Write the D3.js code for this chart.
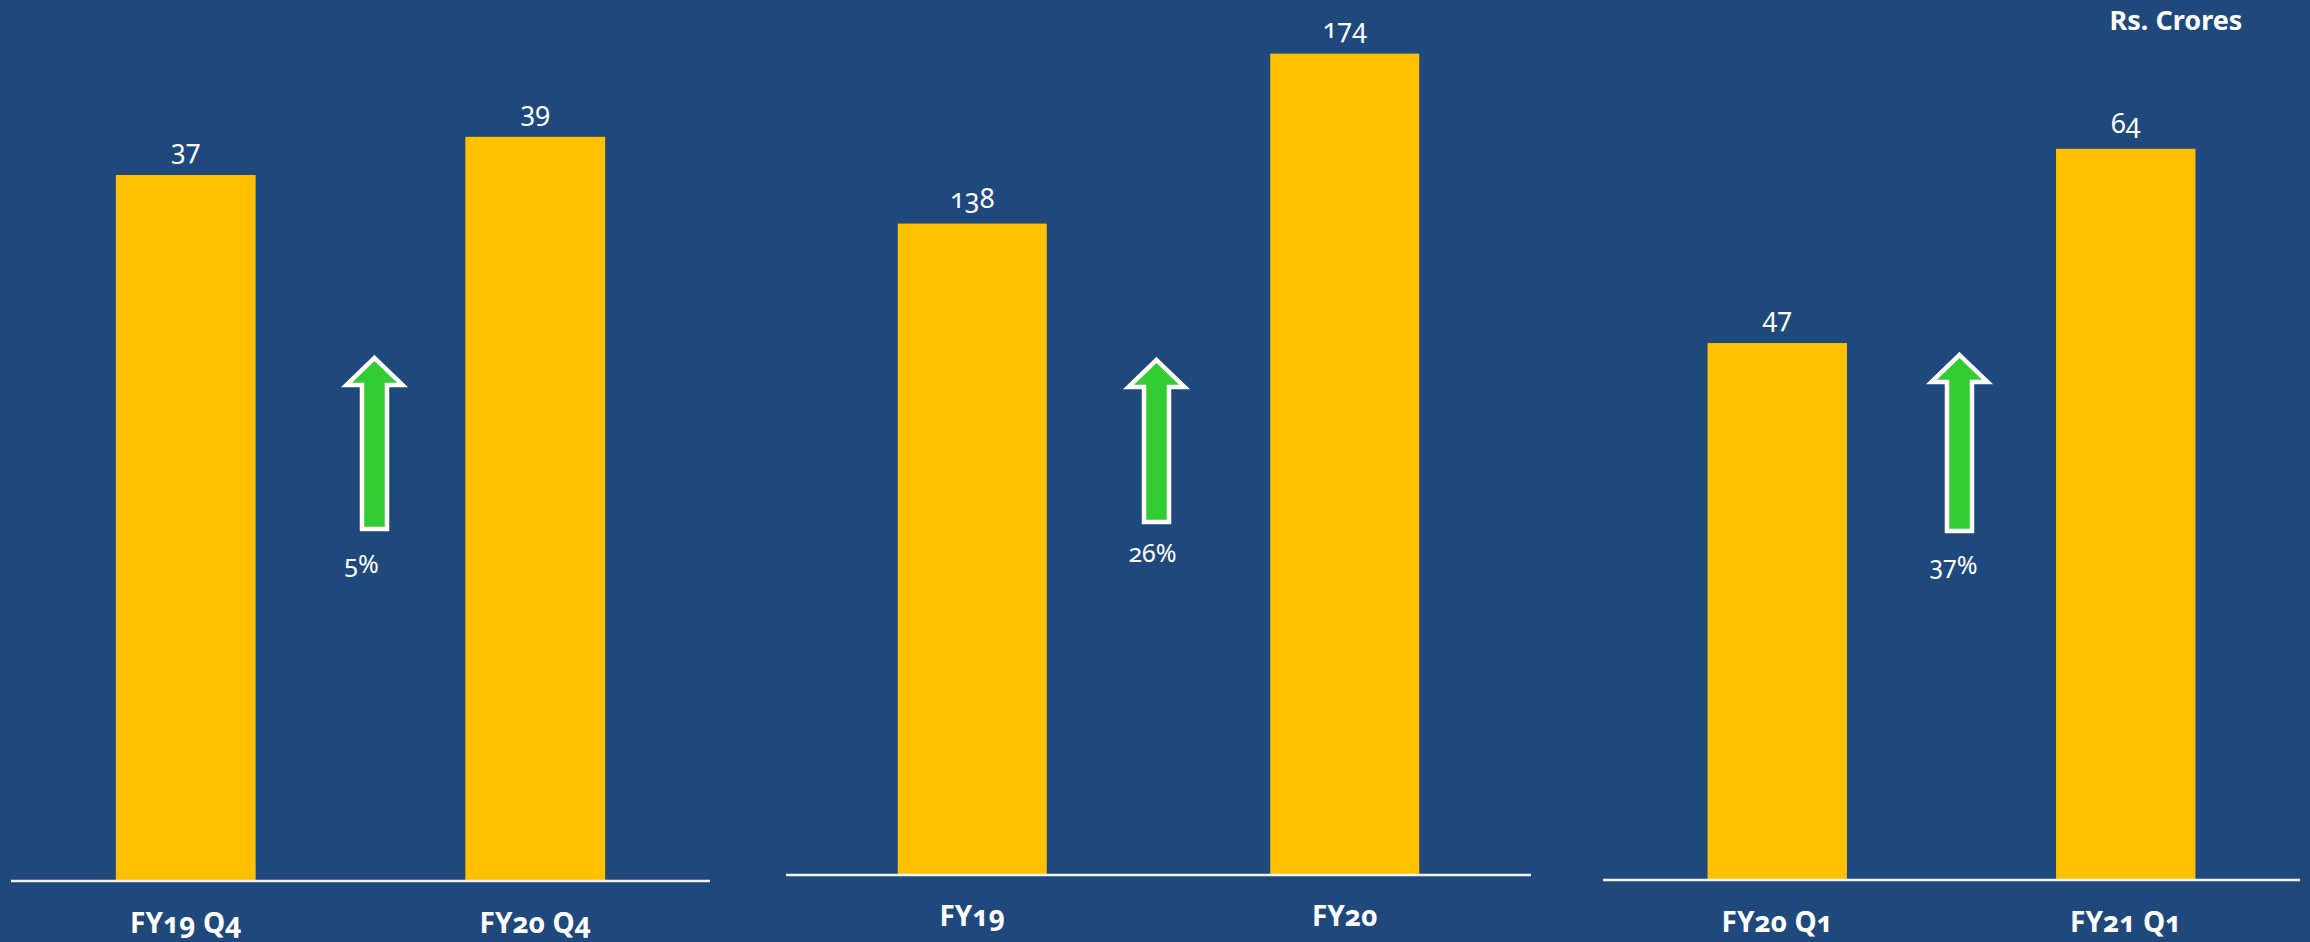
<!DOCTYPE html>
<html>
<head>
<meta charset="utf-8">
<script src="https://cdn.jsdelivr.net/npm/d3@7"></script>
<style>
  html, body { margin: 0; padding: 0; background: #1F497D; }
  svg { display: block; }
</style>
</head>
<body>
<div id="chart"></div>
<script>
// data, one small list per thing
const panelCategories = [
  ['FY19 Q4', 'FY20 Q4'],
  ['FY19', 'FY20'],
  ['FY20 Q1', 'FY21 Q1']
];
const panelValues = [
  [37, 39],
  [138, 174],
  [47, 64]
];
const growthLabels = ['5%', '26%', '37%'];
const yMaxes = [44.6, 179, 74.4];
const unitLabel = 'Rs. Crores';

const width = 2310;
const height = 942;
const font = ['Noto Sans', 'Open Sans', 'DejaVu Sans', 'sans-serif'].map(f => JSON.stringify(f)).join(',');
const bg = '#1F497D';
const barColor = '#FFC000';
const arrowGreen = '#33CC33';

// layout of each small panel
const panels = [
  { x0: 11, x1: 710, base: 881, arrowDx: 14, arrowTop: 358, arrowBottom: 529, pctDx: 1, pctY: 573 },
  { x0: 786, x1: 1531, base: 875, arrowDx: -2, arrowTop: 360, arrowBottom: 522, pctDx: -6, pctY: 562 },
  { x0: 1603, x1: 2300, base: 880, arrowDx: 8, arrowTop: 355, arrowBottom: 531, pctDx: 2, pctY: 574 }
];
const yTop = 30;

const svg = d3.select('#chart').append('svg')
  .attr('width', width)
  .attr('height', height)
  .attr('viewBox', `0 0 ${width} ${height}`);

svg.append('rect').attr('width', width).attr('height', height).attr('fill', bg);

panels.forEach((p, i) => {
  const cats = panelCategories[i];
  const vals = panelValues[i];
  const x = d3.scaleBand().domain(cats).range([p.x0, p.x1]).paddingInner(0.6).paddingOuter(0.3);
  const y = d3.scaleLinear().domain([0, yMaxes[i]]).range([p.base, yTop]);
  const g = svg.append('g').attr('class', 'panel');
  const rows = cats.map((c, j) => ({ cat: c, value: vals[j] }));

  g.selectAll('rect.bar')
    .data(rows)
    .enter()
    .append('rect')
    .attr('class', 'bar')
    .attr('x', d => x(d.cat))
    .attr('width', x.bandwidth())
    .attr('y', d => y(d.value))
    .attr('height', d => y(0) - y(d.value))
    .attr('fill', barColor);

  // baseline with category labels under it
  const axis = g.append('g')
    .attr('transform', `translate(0,${p.base})`)
    .call(d3.axisBottom(x).tickSize(0).tickPadding(0));
  axis.select('.domain').attr('d', `M${p.x0},0H${p.x1}`).attr('stroke', '#F2F2F2').attr('stroke-width', 2.5);
  axis.selectAll('text')
    .attr('dy', null)
    .attr('y', i === 1 ? 51 : 52)
    .attr('fill', '#FFFFFF')
    .attr('font-family', font)
    .attr('font-weight', 'bold')
    .attr('font-size', 28)
    .style('font-variant-numeric', 'oldstyle-nums');

  g.selectAll('text.value')
    .data(rows)
    .enter()
    .append('text')
    .attr('class', 'value')
    .attr('x', d => x(d.cat) + x.bandwidth() / 2)
    .attr('y', d => y(d.value) - 16)
    .attr('text-anchor', 'middle')
    .attr('fill', '#FFFFFF')
    .attr('font-family', font)
    .attr('font-size', 27)
    .style('font-variant-numeric', 'oldstyle-nums')
    .text(d => d.value);

  // growth arrow between the two bars
  const cx = (x(cats[0]) + x(cats[1]) + x.bandwidth()) / 2 + p.arrowDx;
  const headW = 28, shaftW = 12.5, headH = 27;
  const t = p.arrowTop, b = p.arrowBottom;
  const arrowPath = [
    [cx, t], [cx + headW, t + headH], [cx + shaftW, t + headH], [cx + shaftW, b],
    [cx - shaftW, b], [cx - shaftW, t + headH], [cx - headW, t + headH]
  ];
  g.append('path')
    .attr('d', d3.line()(arrowPath) + 'Z')
    .attr('fill', arrowGreen)
    .attr('stroke', '#FFFFFF')
    .attr('stroke-width', 4.5)
    .attr('stroke-linejoin', 'miter');

  g.append('text')
    .attr('x', (x(cats[0]) + x(cats[1]) + x.bandwidth()) / 2 + p.pctDx)
    .attr('y', p.pctY)
    .attr('text-anchor', 'middle')
    .attr('fill', '#FFFFFF')
    .attr('font-family', font)
    .attr('font-size', 25)
    .style('font-variant-numeric', 'oldstyle-nums')
    .text(growthLabels[i]);
});

svg.append('text')
  .attr('x', 2176)
  .attr('y', 30)
  .attr('text-anchor', 'middle')
  .attr('fill', '#FFFFFF')
  .attr('font-family', font)
  .attr('font-weight', 'bold')
  .attr('font-size', 27)
  .text(unitLabel);
</script>
</body>
</html>
